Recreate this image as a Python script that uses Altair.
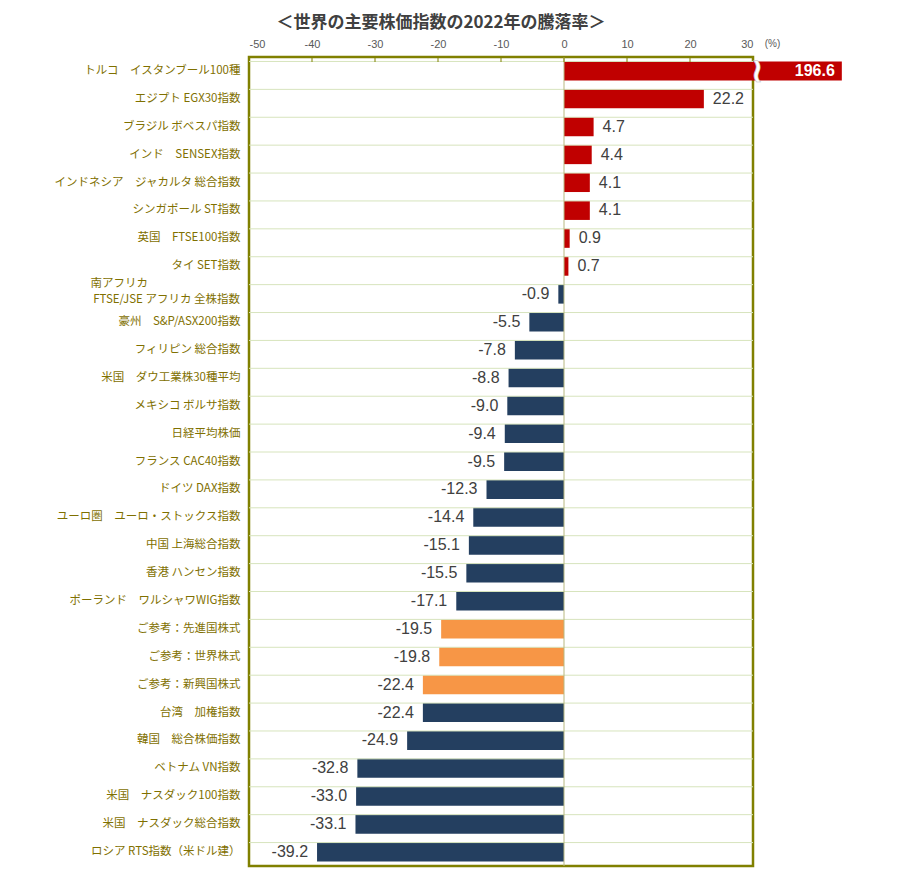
import altair as alt
import pandas as pd

names = [
    "トルコ　イスタンブール100種",
    "エジプト EGX30指数",
    "ブラジル ボベスパ指数",
    "インド　SENSEX指数",
    "インドネシア　ジャカルタ 総合指数",
    "シンガポール ST指数",
    "英国　FTSE100指数",
    "タイ SET指数",
    "南アフリカ\nFTSE/JSE アフリカ 全株指数",
    "豪州　S&P/ASX200指数",
    "フィリピン 総合指数",
    "米国　ダウ工業株30種平均",
    "メキシコ ボルサ指数",
    "日経平均株価",
    "フランス CAC40指数",
    "ドイツ DAX指数",
    "ユーロ圏　ユーロ・ストックス指数",
    "中国 上海総合指数",
    "香港 ハンセン指数",
    "ポーランド　ワルシャワWIG指数",
    "ご参考：先進国株式",
    "ご参考：世界株式",
    "ご参考：新興国株式",
    "台湾　加権指数",
    "韓国　総合株価指数",
    "ベトナム VN指数",
    "米国　ナスダック100指数",
    "米国　ナスダック総合指数",
    "ロシア RTS指数（米ドル建）",
]
values = [196.6, 22.2, 4.7, 4.4, 4.1, 4.1, 0.9, 0.7, -0.9, -5.5, -7.8, -8.8,
          -9.0, -9.4, -9.5, -12.3, -14.4, -15.1, -15.5, -17.1, -19.5, -19.8,
          -22.4, -22.4, -24.9, -32.8, -33.0, -33.1, -39.2]
groups = ["pos"] * 8 + ["neg"] * 12 + ["ref"] * 3 + ["neg"] * 6
x_ticks = [-50, -40, -30, -20, -10, 0, 10, 20, 30]

AXIS_MAX = 30
BREAK_DISPLAY_END = 44.1  # where the broken (off-scale) bar is drawn to
LABEL_COLOR = "#7f7000"
LABEL_FONT = "Noto Sans CJK JP"
LABEL_SIZE = 11.5

df = pd.DataFrame({"name": names, "value": values, "group": groups})
df["label"] = df["value"].map(lambda v: f"{v:.1f}")
df["x_end"] = df["value"].where(df["value"] <= AXIS_MAX, BREAK_DISPLAY_END)
df["broken"] = df["value"] > AXIS_MAX
df["two_line"] = df["name"].str.contains("\n")
# lines of a two-line label; the first is left-aligned with the second
df["first_line"] = df["name"].map(
    lambda s: (s.split("\n")[0] + "\u3000" * 8 + "\u200b") if "\n" in s else ""
)
df["second_line"] = df["name"].map(
    lambda s: s.split("\n")[1] if "\n" in s else ""
)

order = names
xscale = alt.Scale(domain=[-50, 30], nice=False, zero=False)
yscale = alt.Scale(domain=order, paddingInner=0.32, paddingOuter=0.16)

y_axis = alt.Axis(
    orient="left",
    title=None,
    ticks=False,
    domain=False,
    grid=False,
    labelColor=LABEL_COLOR,
    labelFontSize=LABEL_SIZE,
    labelFont=LABEL_FONT,
    labelPadding=9,
    labelLimit=400,
    labelExpr="indexof(datum.label, '\\n') >= 0 ? '' : datum.label",
)
x_axis = alt.Axis(
    orient="top",
    values=x_ticks,
    ticks=False,
    domain=False,
    grid=False,
    labelColor="#595959",
    labelFontSize=11,
    labelPadding=8,
    labelFont="Liberation Sans",
    labelExpr="'' + datum.value",
    title="(%)",
    titleFontSize=10,
    titleFontWeight="normal",
    titleColor="#595959",
    titleFont="Liberation Sans",
    titleAngle=0,
    titleX=523,
    titleY=-9,
    titleAlign="center",
)

Y = alt.Y("name:N", sort=order, scale=yscale, axis=y_axis)
Yp = alt.Y("name:N", sort=order, scale=yscale)

base = alt.Chart(df)

bars = base.mark_bar(size=19, clip=False).encode(
    x=alt.X("x_end:Q", scale=xscale, axis=x_axis),
    x2=alt.datum(0),
    y=Y,
    color=alt.Color(
        "group:N",
        scale=alt.Scale(domain=["pos", "neg", "ref"],
                        range=["#c00000", "#243f60", "#f79646"]),
        legend=None,
    ),
)

two_line_style = dict(align="right", baseline="middle", dx=-9,
                      fontSize=LABEL_SIZE, font=LABEL_FONT,
                      color=LABEL_COLOR, clip=False)
first_lines = base.transform_filter("datum.two_line").mark_text(
    dy=-10, **two_line_style
).encode(x=alt.value(0), y=Yp, text="first_line:N")
second_lines = base.transform_filter("datum.two_line").mark_text(
    dy=6, **two_line_style
).encode(x=alt.value(0), y=Yp, text="second_line:N")

grid = base.mark_rule(color="#d7e4bd", strokeWidth=1).encode(
    y=alt.Y("name:N", sort=order, scale=yscale, bandPosition=0)
)

zero_line = alt.Chart(pd.DataFrame({"z": [0]})).mark_rule(
    color="#b8b880", strokeWidth=1
).encode(x=alt.X("z:Q", scale=xscale))

tick_df = pd.DataFrame({"t": x_ticks[1:-1]})
ticks = alt.Chart(tick_df).mark_rule(color="#808000", strokeWidth=1).encode(
    x=alt.X("t:Q", scale=xscale), y=alt.value(0), y2=alt.value(5)
)

label_font = dict(fontSize=16, color="#404040", font="Liberation Sans")
pos_labels = base.transform_filter(
    "datum.value >= 0 && !datum.broken"
).mark_text(align="left", baseline="middle", dx=9, **label_font).encode(
    x=alt.X("x_end:Q", scale=xscale), y=Yp, text="label:N",
)
neg_labels = base.transform_filter("datum.value < 0").mark_text(
    align="right", baseline="middle", dx=-9, **label_font
).encode(
    x=alt.X("x_end:Q", scale=xscale), y=Yp, text="label:N",
)
broken_label = base.transform_filter("datum.broken").mark_text(
    align="right", baseline="middle", dx=-7, fontSize=16, fontWeight="bold",
    color="white", font="Liberation Sans", clip=False
).encode(
    x=alt.X("x_end:Q", scale=xscale), y=Yp, text="label:N",
)
break_mark = base.transform_filter("datum.broken").mark_text(
    align="center", baseline="middle", dx=4, dy=1, fontSize=34,
    fontWeight="bold", color="white", stroke="#c0c0c0", strokeWidth=0.5,
    font="DejaVu Sans", clip=False, text="≀"
).encode(
    x=alt.datum(AXIS_MAX), y=Yp,
)

chart = alt.layer(
    bars, first_lines, second_lines, grid, zero_line, ticks, pos_labels,
    neg_labels, broken_label, break_mark
).properties(
    width=504,
    height=809,
    padding={"left": 241, "top": 49, "right": 130, "bottom": 6},
    autosize=alt.AutoSizeParams(type="none"),
    background="white",
    title=alt.TitleParams(
        "＜世界の主要株価指数の2022年の騰落率＞",
        fontSize=17,
        fontWeight="bold",
        color="#404040",
        font="Noto Sans CJK JP",
        offset=6,
        dx=-60,
    ),
).configure_view(stroke="#808000", strokeWidth=2.5)

chart.save("out.html", embed_options={"renderer": "svg", "actions": False})
